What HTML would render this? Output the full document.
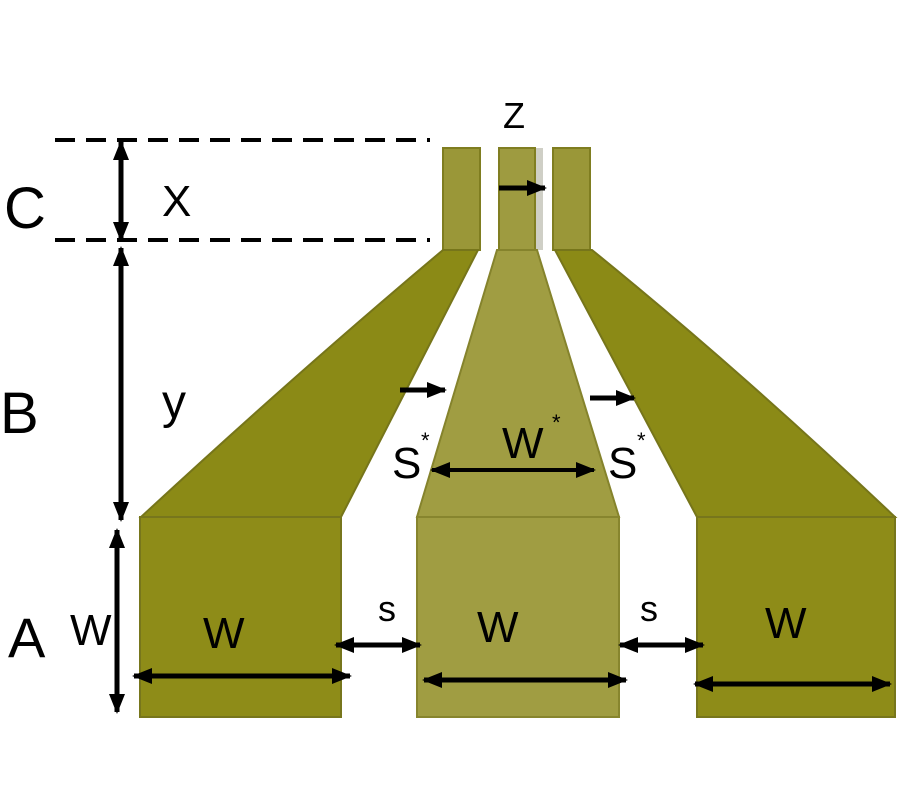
<!DOCTYPE html>
<html><head><meta charset="utf-8"><style>
html,body{margin:0;padding:0;background:#fff;width:900px;height:800px;overflow:hidden}
text{font-family:"Liberation Sans",sans-serif;fill:#000}
</style></head><body>
<svg width="900" height="800" viewBox="0 0 900 800" xmlns="http://www.w3.org/2000/svg">
<defs>
<marker id="ah" markerWidth="20" markerHeight="20" refX="18" refY="10" orient="auto" markerUnits="userSpaceOnUse">
<path d="M0,2 L20,10 L0,18 z" fill="#000"/></marker>
<marker id="at" markerWidth="20" markerHeight="20" refX="2" refY="10" orient="auto" markerUnits="userSpaceOnUse">
<path d="M20,2 L0,10 L20,18 z" fill="#000"/></marker>
</defs>
<line x1="55" y1="140" x2="430" y2="140" stroke="#000" stroke-width="4" stroke-dasharray="20,11"/>
<line x1="55" y1="240" x2="430" y2="240" stroke="#000" stroke-width="4" stroke-dasharray="20,11"/>
<rect x="443" y="148" width="37" height="102" fill="#9a9738" stroke="#7f7d20" stroke-width="2"/>
<rect x="535" y="148" width="8" height="102" fill="#cfcfc6"/>
<rect x="499" y="148" width="36" height="102" fill="#9e9b40" stroke="#807e22" stroke-width="2"/>
<rect x="553" y="148" width="37" height="102" fill="#9a9738" stroke="#7f7d20" stroke-width="2"/>
<path d="M443,250 L478,250 L341,517 L141,517 Q300,370 443,250 z" fill="#8b8a16" stroke="#76751a" stroke-width="2"/>
<path d="M497,250 L537,250 L619,517 L417,517 z" fill="#a09d42" stroke="#85832c" stroke-width="2"/>
<path d="M555,250 L592,250 Q740,370 895,517 L697,517 z" fill="#8b8a16" stroke="#76751a" stroke-width="2"/>
<rect x="140" y="517" width="201" height="200" fill="#8e8c18" stroke="#77761c" stroke-width="2"/>
<rect x="417" y="517" width="202" height="200" fill="#a09d42" stroke="#87852e" stroke-width="2"/>
<rect x="697" y="517" width="198" height="200" fill="#8e8c18" stroke="#77761c" stroke-width="2"/>
<g stroke="#000" stroke-width="5" fill="none">
<line x1="121" y1="142" x2="121" y2="240" marker-start="url(#at)" marker-end="url(#ah)"/>
<line x1="121" y1="248" x2="121" y2="520" marker-start="url(#at)" marker-end="url(#ah)"/>
<line x1="117" y1="530" x2="117" y2="712" marker-start="url(#at)" marker-end="url(#ah)"/>
<line x1="134" y1="676" x2="350" y2="676" marker-start="url(#at)" marker-end="url(#ah)"/>
<line x1="336" y1="645" x2="420" y2="645" marker-start="url(#at)" marker-end="url(#ah)"/>
<line x1="424" y1="680" x2="626" y2="680" marker-start="url(#at)" marker-end="url(#ah)"/>
<line x1="620" y1="645" x2="703" y2="645" marker-start="url(#at)" marker-end="url(#ah)"/>
<line x1="695" y1="684" x2="890" y2="684" marker-start="url(#at)" marker-end="url(#ah)"/>
<line x1="432" y1="470" x2="594" y2="470" stroke-width="4" marker-start="url(#at)" marker-end="url(#ah)"/>
<line x1="400" y1="390" x2="445" y2="390" marker-end="url(#ah)"/>
<line x1="590" y1="398" x2="634" y2="398" marker-end="url(#ah)"/>
<line x1="499" y1="188" x2="545" y2="188" marker-end="url(#ah)"/>
</g>
<text x="4" y="228" font-size="58">C</text>
<text x="162" y="216" font-size="44">X</text>
<text x="0" y="433" font-size="58">B</text>
<text x="162" y="418" font-size="48">y</text>
<text x="8" y="657" font-size="56">A</text>
<text x="70" y="645" font-size="44">W</text>
<text x="203" y="648" font-size="44">W</text>
<text x="477" y="642" font-size="44">W</text>
<text x="765" y="638" font-size="44">W</text>
<text x="378" y="621" font-size="36">s</text>
<text x="640" y="621" font-size="36">s</text>
<text x="503" y="128" font-size="36">Z</text>
<text x="392" y="478" font-size="44">S</text>
<text x="421" y="448" font-size="22">*</text>
<text x="502" y="458" font-size="44">W</text>
<text x="552" y="430" font-size="22">*</text>
<text x="608" y="478" font-size="44">S</text>
<text x="637" y="448" font-size="22">*</text>
</svg>
</body></html>
